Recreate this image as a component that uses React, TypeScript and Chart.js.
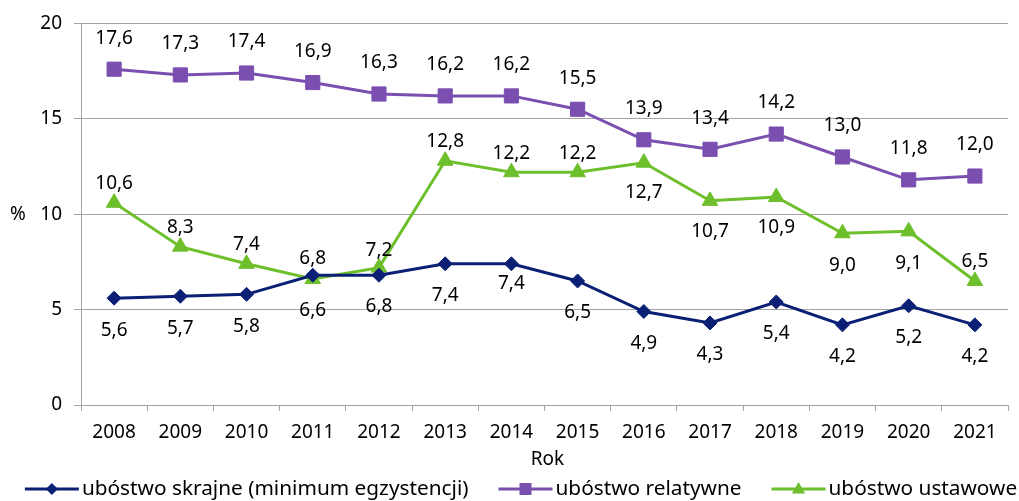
import { useEffect, useRef } from 'react';
import { Chart, registerables } from 'chart.js';

Chart.register(...registerables);

const YEARS = ['2008', '2009', '2010', '2011', '2012', '2013', '2014', '2015', '2016', '2017', '2018', '2019', '2020', '2021'];
const EXTREME = [5.6, 5.7, 5.8, 6.8, 6.8, 7.4, 7.4, 6.5, 4.9, 4.3, 5.4, 4.2, 5.2, 4.2];
const RELATIVE = [17.6, 17.3, 17.4, 16.9, 16.3, 16.2, 16.2, 15.5, 13.9, 13.4, 14.2, 13.0, 11.8, 12.0];
const STATUTORY = [10.6, 8.3, 7.4, 6.6, 7.2, 12.8, 12.2, 12.2, 12.7, 10.7, 10.9, 9.0, 9.1, 6.5];
const SERIES_NAMES = ['ubóstwo skrajne (minimum egzystencji)', 'ubóstwo relatywne', 'ubóstwo ustawowe'];
const Y_MIN = 0;
const Y_MAX = 20;
const Y_STEP = 5;
const X_TITLE = 'Rok';
const Y_TITLE = '%';

// style: signed vertical label offsets (negative = above the point)
const LABEL_OFFSETS = [
  [32, 32, 32, -17, 31, 32, 20, 32, 32, 32, 32, 32, 32, 32],
  [-31, -31, -31, -31, -31, -31, -31, -31, -31, -31, -31, -31, -31, -31],
  [-19, -19, -19, 32, -17, -19, -19, -19, 30, 31, 31, 32, 32, -19],
];

const FONT = "'Noto Sans', sans-serif";
const COLORS = ['#0b1f75', '#7a4fb0', '#6dbf2b'];
const STYLES = ['rectRot', 'rect', 'triangle'];
const RADII = [7, 10, 9];
const GRID = '#a3a3a3';

const fmt = (v: number) => v.toFixed(1).replace('.', ',');

function marker(ctx: CanvasRenderingContext2D, style: string, x: number, y: number, r: number) {
  ctx.beginPath();
  if (style === 'rectRot') {
    ctx.moveTo(x, y - r);
    ctx.lineTo(x + r, y);
    ctx.lineTo(x, y + r);
    ctx.lineTo(x - r, y);
  } else if (style === 'rect') {
    ctx.rect(x - r, y - r, 2 * r, 2 * r);
  } else {
    ctx.moveTo(x, y - r);
    ctx.lineTo(x + r * 0.95, y + r * 0.65);
    ctx.lineTo(x - r * 0.95, y + r * 0.65);
  }
  ctx.closePath();
  ctx.fill();
}

const labelPlugin = {
  id: 'valueLabels',
  afterDatasetsDraw(chart: any) {
    const ctx = chart.ctx as CanvasRenderingContext2D;
    ctx.save();
    ctx.font = `19px ${FONT}`;
    ctx.fillStyle = '#000';
    ctx.textAlign = 'center';
    ctx.textBaseline = 'middle';
    chart.data.datasets.forEach((ds: any, di: number) => {
      const meta = chart.getDatasetMeta(di);
      meta.data.forEach((pt: any, i: number) => {
        ctx.fillText(fmt(ds.data[i]), pt.x, pt.y + LABEL_OFFSETS[di][i]);
      });
    });
    ctx.restore();
  },
};

const extrasPlugin = {
  id: 'extras',
  afterDraw(chart: any) {
    const ctx = chart.ctx as CanvasRenderingContext2D;
    const area = chart.chartArea;
    const yScale = chart.scales.y;
    ctx.save();
    ctx.fillStyle = '#000';
    ctx.textBaseline = 'middle';
    ctx.font = `19px ${FONT}`;
    ctx.textAlign = 'center';
    ctx.fillText(Y_TITLE, 18, yScale.getPixelForValue(10));
    ctx.fillText(X_TITLE, (area.left + area.right) / 2 + 3, 460);

    // legend
    ctx.font = `20.8px ${FONT}`;
    const lineW = 54;
    const gapT = 3;
    const gapI = 30;
    const widths = SERIES_NAMES.map((n) => ctx.measureText(n).width);
    const total = widths.reduce((a, w) => a + lineW + gapT + w, 0) + gapI * (SERIES_NAMES.length - 1);
    let x = 521 - total / 2;
    const y = 489;
    ctx.textAlign = 'left';
    SERIES_NAMES.forEach((name, i) => {
      ctx.strokeStyle = COLORS[i];
      ctx.fillStyle = COLORS[i];
      ctx.lineWidth = 3;
      ctx.beginPath();
      ctx.moveTo(x, y);
      ctx.lineTo(x + lineW, y);
      ctx.stroke();
      marker(ctx, STYLES[i], x + lineW / 2, y, i === 0 ? 6 : i === 1 ? 6 : 7);
      ctx.fillStyle = '#000';
      ctx.fillText(name, x + lineW + gapT, y);
      x += lineW + gapT + widths[i] + gapI;
    });
    ctx.restore();
  },
};

export default function App() {
  const ref = useRef<HTMLCanvasElement>(null);
  useEffect(() => {
    const series = [EXTREME, RELATIVE, STATUTORY];
    const chart = new Chart(ref.current!, {
      type: 'line',
      data: {
        labels: YEARS,
        datasets: series.map((d, i) => ({
          label: SERIES_NAMES[i],
          data: d,
          borderColor: COLORS[i],
          backgroundColor: COLORS[i],
          borderWidth: 3,
          pointStyle: STYLES[i] as any,
          pointRadius: RADII[i],
          pointBorderWidth: 1,
          pointBorderColor: COLORS[i],
          pointBackgroundColor: COLORS[i],
          tension: 0,
          clip: false as any,
        })),
      },
      options: {
        animation: false,
        responsive: true,
        maintainAspectRatio: false,
        layout: { padding: { top: 23, left: 0, right: 0, bottom: 0 } },
        plugins: {
          legend: { display: false },
          tooltip: { enabled: false },
        },
        scales: {
          x: {
            type: 'category',
            offset: true,
            grid: { offset: true, drawOnChartArea: false, drawTicks: true, tickLength: 6, color: GRID },
            border: { color: GRID, width: 1 },
            ticks: { font: { family: FONT, size: 19 }, color: '#000', padding: 10, maxRotation: 0 },
            afterFit: (s: any) => { s.height = 96; },
          },
          y: {
            min: Y_MIN,
            max: Y_MAX,
            grid: { color: GRID, tickLength: 7, lineWidth: 1 },
            border: { color: GRID, width: 1 },
            ticks: { stepSize: Y_STEP, font: { family: FONT, size: 19 }, color: '#000', padding: 12 },
            afterFit: (s: any) => { s.width = 81; },
          },
        },
      },
      plugins: [labelPlugin, extrasPlugin],
    });
    return () => chart.destroy();
  }, []);
  return (
    <div style={{ position: 'absolute', left: 0, top: 0, width: 1019, height: 501 }}>
      <canvas ref={ref} />
    </div>
  );
}
